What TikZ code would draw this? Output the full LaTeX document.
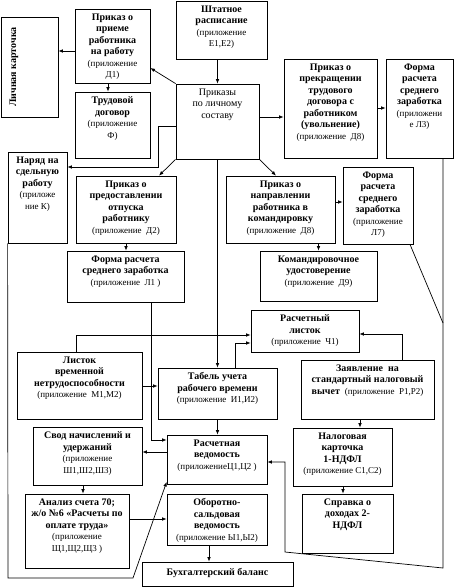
\documentclass[tikz,border=0pt]{standalone}
\usepackage{fontspec}
\setmainfont{Liberation Serif}
\usetikzlibrary{arrows.meta,calc}
\newcommand\ax[1]{{\fontsize{9}{10}\selectfont\mdseries #1}}
\newcommand\mybox[7][5]{%
  \node[bx, minimum width={#5pt-#3pt}, minimum height={#6pt-#4pt}] (#2) at ({(#3+#5)/2},{(#4+#6)/2}) {};
  \node[tx] (#2t) at ([yshift=-#1pt]#2.north) {#7};}
\begin{document}
\begin{tikzpicture}[x=1pt,y=-1pt,
  bx/.style={draw, line width=0.8pt, inner sep=0pt},
  tx/.style={anchor=north, align=center, inner sep=0pt, font=\fontsize{10}{11.5}\selectfont\bfseries},
  arr/.style={line width=0.7pt, -{Latex[length=4.5pt,width=3.6pt]}},
  ln/.style={line width=0.7pt}]
\useasboundingbox (0,0) rectangle (455,587);
\fill[white] (0,0) rectangle (455,587);

% boxes
\node[bx, minimum width=57pt, minimum height=100pt] (lk) at (29.5,67) {};
\node[rotate=90, inner sep=0pt, font=\fontsize{10}{12}\selectfont\bfseries] (lkr) at (14,67) {Личная карточка};
\mybox{priem}{75}{9}{150}{83}{Приказ о\\приеме\\работника\\на работу\\\ax{(приложение}\\\ax{Д1)}}
\mybox{trud}{75}{92}{150}{158}{Трудовой\\договор\\\ax{(приложение}\\\ax{Ф)}}
\mybox{shtat}{176}{1}{267}{59}{Штатное\\расписание\\\ax{(приложение}\\\ax{Е1,Е2)}}
\mybox{prikazy}{176}{84}{259}{159}{\mdseries Приказы\\\mdseries по личному\\\mdseries составу}
\mybox{prekr}{284}{59}{377}{158}{Приказ о\\прекращении\\трудового\\договора с\\работником\\(увольнение)\\\ax{(приложение~~Д8)}}
\mybox{lthree}{386}{59}{453}{158}{Форма\\расчета\\среднего\\заработка\\\ax{(приложени}\\\ax{е Л3)}}
\mybox{naryad}{8}{152}{67}{243}{Наряд на\\сдельную\\работу\\\ax{(приложе}\\\ax{ние К)}}
\mybox{otpusk}{76}{176}{176}{243}{Приказ о\\предоставлении\\отпуска\\работнику\\\ax{(приложение~~Д2)}}
\mybox{lone}{67}{251}{184}{302}{Форма расчета\\среднего заработка\\\ax{(приложение~~Л1 )}}
\mybox{kom}{226}{176}{335}{243}{Приказ о\\направлении\\работника в\\командировку\\\ax{(приложение~~Д8)}}
\mybox{lseven}{343}{167}{413}{244}{Форма\\расчета\\среднего\\заработка\\\ax{(приложение}\\\ax{Л7)}}
\mybox{udost}{260}{251}{377}{301}{Командировочное\\удостоверение\\\ax{(приложение~~Д9)}}
\mybox{rlist}{251}{310}{359}{352}{Расчетный\\листок\\\ax{(приложение~~Ч1)}}
\mybox{bolnich}{17}{352}{142}{419}{Листок\\временной\\нетрудоспособности\\\ax{(приложение~~М1,М2)}}
\mybox{tabel}{158}{368}{277}{419}{Табель учета\\рабочего времени\\\ax{(приложение~~И1,И2)}}
\mybox{zayav}{301}{360}{434}{419}{Заявление~~на\\стандартный налоговый\\вычет~~\ax{(приложение~~Р1,Р2)}}
\mybox{nalog}{293}{428}{392}{486}{Налоговая\\карточка\\1-НДФЛ\\\ax{(приложение С1,С2)}}
\mybox{spravka}{302}{494}{393}{553}{Справка о\\доходах 2-\\НДФЛ}
\mybox{rved}{167}{435}{267}{484}{Расчетная\\ведомость\\\ax{(приложениеЦ1,Ц2 )}}
\mybox{svod}{33}{427}{142}{485}{Свод начислений и\\удержаний\\\ax{(приложение}\\\ax{Ш1,Ш2,Ш3)}}
\mybox{analiz}{25}{494}{129}{568}{Анализ счета 70;\\ж/о №6 «Расчеты по\\оплате труда»\\\ax{(приложение}\\\ax{Щ1,Щ2,Щ3 )}}
\mybox{obor}{167}{494}{267}{545}{Оборотно-\\сальдовая\\ведомость\\\ax{(приложение Ы1,Ы2)}}
\mybox[7]{buh}{142}{562}{293}{586}{Бухгалтерский баланс}

% connectors
\draw[arr] (shtat.south -| prikazy.north) -- (prikazy.north);
\draw[arr] (prikazy.north west) -- (priem.east |- 0,68);
\draw[arr] (priem.west |- 0,51) -- (lk.east |- 0,51);
\draw[arr] (priem.south -| 108,0) -- (trud.north -| 108,0);
\draw[arr] (prikazy.east |- 0,117) -- (prekr.west |- 0,117);
\draw[arr] (prekr.east |- 0,108) -- (lthree.west |- 0,108);
\draw[arr] (prikazy.west |- 0,126) -| (158,167) -- (naryad.east |- 0,167);
\draw[arr] (prikazy.south west) -- (otpusk.north -| 159,0);
\draw[arr] (prikazy.south east) -- (kom.north -| 276,0);
\draw[arr] (prikazy.south) -- (tabel.north);
\draw[arr] (otpusk.south) -- (otpusk.south |- lone.north);
\draw[arr] (kom.east |- 0,202) -- (lseven.west |- 0,202);
\draw[arr] (udost.north |- kom.south) -- (udost.north);
\draw[ln] (lseven.south -| 410,0) -- (443,323);
\draw[arr] (lthree.south -| 443,0) -- (443,568) -- (285,552) -- (285,462) -- (rved.east |- 0,462);
\draw[arr] (lone.south -| 151,0) |- (rved.west |- 0,440);
\draw[arr] (bolnich.north -| 76,0) |- (rlist.west |- 0,335);
\draw[arr] (tabel.north -| 235,0) |- (rlist.west |- 0,343);
\draw[arr] (bolnich.east |- 0,386) -- (tabel.west |- 0,386);
\draw[arr] (tabel.south) -- (tabel.south |- rved.north);
\draw[arr] (zayav.north -| 402,0) |- (rlist.east |- 0,334);
\draw[arr] (zayav.south -| 360,0) -- (nalog.north -| 360,0);
\draw[arr] (nalog.south -| 343,0) -- (spravka.north -| 343,0);
\draw[arr] (rved.west |- 0,452) -- (svod.east |- 0,452);
\draw[arr] (svod.south -| 83,0) -- (analiz.north -| 83,0);
\draw[arr] (analiz.east |- 0,519) -- (obor.west |- 0,519);
\draw[arr] (obor.south -| 209,0) -- (buh.north -| 209,0);
\draw[arr] (naryad.south west) -- (8,578) -- (133,578) -- (rved.west |- 0,482);
\end{tikzpicture}
\end{document}
